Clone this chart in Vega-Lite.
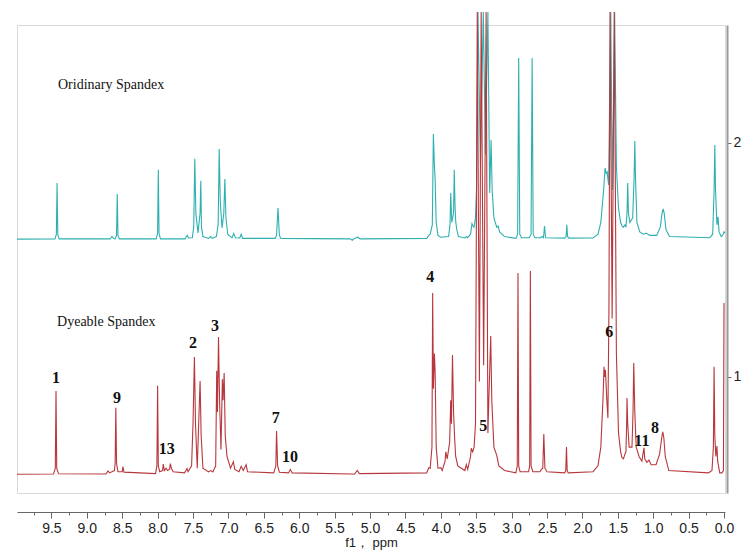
{
"$schema": "https://vega.github.io/schema/vega-lite/v6.json",
"width": 708, "height": 468,
"autosize": "none",
"padding": {"left": 17, "top": 25, "right": 23, "bottom": 63},
"background": "white",
"config": {"view": {"stroke": "#d9d9d9", "strokeWidth": 1}},
"datasets": {
"spec": [
{"s":"O","ppm":9.986,"v":1.589},{"s":"O","ppm":9.45,"v":1.59},{"s":"O","ppm":9.43,"v":1.609},{"s":"O","ppm":9.42,"v":1.829},{"s":"O","ppm":9.41,"v":1.609},{"s":"O","ppm":9.39,"v":1.59},
{"s":"O","ppm":8.67,"v":1.59},{"s":"O","ppm":8.645,"v":1.6},{"s":"O","ppm":8.62,"v":1.592},{"s":"O","ppm":8.6,"v":1.59},{"s":"O","ppm":8.58,"v":1.605},{"s":"O","ppm":8.57,"v":1.782},{"s":"O","ppm":8.56,"v":1.605},{"s":"O","ppm":8.54,"v":1.59},
{"s":"O","ppm":8.02,"v":1.59},{"s":"O","ppm":8.0,"v":1.614},{"s":"O","ppm":7.99,"v":1.885},{"s":"O","ppm":7.98,"v":1.614},{"s":"O","ppm":7.96,"v":1.59},
{"s":"O","ppm":7.61,"v":1.59},{"s":"O","ppm":7.595,"v":1.6},{"s":"O","ppm":7.58,"v":1.605},{"s":"O","ppm":7.565,"v":1.594},
{"s":"O","ppm":7.51,"v":1.595},{"s":"O","ppm":7.49,"v":1.64},{"s":"O","ppm":7.475,"v":1.932},{"s":"O","ppm":7.46,"v":1.7},{"s":"O","ppm":7.43,"v":1.615},{"s":"O","ppm":7.4,"v":1.7},{"s":"O","ppm":7.39,"v":1.838},{"s":"O","ppm":7.38,"v":1.64},{"s":"O","ppm":7.36,"v":1.6},
{"s":"O","ppm":7.28,"v":1.592},{"s":"O","ppm":7.25,"v":1.6},{"s":"O","ppm":7.23,"v":1.592},
{"s":"O","ppm":7.17,"v":1.6},{"s":"O","ppm":7.145,"v":1.65},{"s":"O","ppm":7.13,"v":1.974},{"s":"O","ppm":7.115,"v":1.75},{"s":"O","ppm":7.09,"v":1.637},{"s":"O","ppm":7.065,"v":1.7},{"s":"O","ppm":7.05,"v":1.846},{"s":"O","ppm":7.035,"v":1.68},{"s":"O","ppm":7.01,"v":1.61},
{"s":"O","ppm":6.95,"v":1.594},{"s":"O","ppm":6.925,"v":1.613},{"s":"O","ppm":6.9,"v":1.595},{"s":"O","ppm":6.84,"v":1.594},{"s":"O","ppm":6.82,"v":1.61},{"s":"O","ppm":6.8,"v":1.592},
{"s":"O","ppm":6.34,"v":1.592},{"s":"O","ppm":6.32,"v":1.605},{"s":"O","ppm":6.3,"v":1.722},{"s":"O","ppm":6.28,"v":1.605},{"s":"O","ppm":6.26,"v":1.592},
{"s":"O","ppm":5.28,"v":1.59},{"s":"O","ppm":5.25,"v":1.584},{"s":"O","ppm":5.22,"v":1.592},{"s":"O","ppm":5.17,"v":1.597},{"s":"O","ppm":5.14,"v":1.59},
{"s":"O","ppm":4.2,"v":1.592},{"s":"O","ppm":4.17,"v":1.605},{"s":"O","ppm":4.15,"v":1.61},{"s":"O","ppm":4.12,"v":1.65},{"s":"O","ppm":4.105,"v":2.038},{"s":"O","ppm":4.09,"v":1.9},{"s":"O","ppm":4.08,"v":1.84},{"s":"O","ppm":4.065,"v":1.66},{"s":"O","ppm":4.04,"v":1.605},{"s":"O","ppm":4.0,"v":1.597},
{"s":"O","ppm":3.89,"v":1.6},{"s":"O","ppm":3.87,"v":1.65},{"s":"O","ppm":3.86,"v":1.786},{"s":"O","ppm":3.845,"v":1.66},{"s":"O","ppm":3.82,"v":1.7},{"s":"O","ppm":3.81,"v":1.885},{"s":"O","ppm":3.8,"v":1.74},{"s":"O","ppm":3.79,"v":1.667},{"s":"O","ppm":3.775,"v":1.63},{"s":"O","ppm":3.75,"v":1.6},
{"s":"O","ppm":3.66,"v":1.594},{"s":"O","ppm":3.64,"v":1.6},{"s":"O","ppm":3.62,"v":1.595},{"s":"O","ppm":3.58,"v":1.61},{"s":"O","ppm":3.56,"v":1.655},{"s":"O","ppm":3.545,"v":1.645},{"s":"O","ppm":3.53,"v":1.64},{"s":"O","ppm":3.51,"v":1.68},{"s":"O","ppm":3.495,"v":1.8},
{"s":"O","ppm":3.475,"v":2.56},{"s":"O","ppm":3.44,"v":1.91},{"s":"O","ppm":3.4,"v":2.56},{"s":"O","ppm":3.37,"v":1.95},{"s":"O","ppm":3.335,"v":2.56},{"s":"O","ppm":3.31,"v":1.786},{"s":"O","ppm":3.29,"v":2.013},{"s":"O","ppm":3.275,"v":1.8},{"s":"O","ppm":3.25,"v":1.68},{"s":"O","ppm":3.21,"v":1.64},{"s":"O","ppm":3.19,"v":1.645},{"s":"O","ppm":3.17,"v":1.62},{"s":"O","ppm":3.1,"v":1.6},
{"s":"O","ppm":2.94,"v":1.592},{"s":"O","ppm":2.915,"v":1.61},{"s":"O","ppm":2.9,"v":2.363},{"s":"O","ppm":2.885,"v":1.61},{"s":"O","ppm":2.86,"v":1.595},
{"s":"O","ppm":2.75,"v":1.595},{"s":"O","ppm":2.725,"v":1.61},{"s":"O","ppm":2.71,"v":2.363},{"s":"O","ppm":2.695,"v":1.61},{"s":"O","ppm":2.67,"v":1.595},
{"s":"O","ppm":2.59,"v":1.595},{"s":"O","ppm":2.57,"v":1.6},{"s":"O","ppm":2.55,"v":1.595},{"s":"O","ppm":2.535,"v":1.645},{"s":"O","ppm":2.52,"v":1.595},
{"s":"O","ppm":2.25,"v":1.593},{"s":"O","ppm":2.23,"v":1.6},{"s":"O","ppm":2.22,"v":1.65},{"s":"O","ppm":2.21,"v":1.6},{"s":"O","ppm":2.19,"v":1.593},
{"s":"O","ppm":1.85,"v":1.594},{"s":"O","ppm":1.78,"v":1.61},{"s":"O","ppm":1.74,"v":1.66},{"s":"O","ppm":1.7,"v":1.8},{"s":"O","ppm":1.68,"v":1.893},{"s":"O","ppm":1.665,"v":1.87},{"s":"O","ppm":1.65,"v":1.876},{"s":"O","ppm":1.63,"v":1.82},
{"s":"O","ppm":1.6,"v":2.56},{"s":"O","ppm":1.575,"v":1.8},{"s":"O","ppm":1.545,"v":2.56},{"s":"O","ppm":1.52,"v":1.9},{"s":"O","ppm":1.49,"v":1.72},{"s":"O","ppm":1.46,"v":1.66},{"s":"O","ppm":1.44,"v":1.645},{"s":"O","ppm":1.42,"v":1.64},{"s":"O","ppm":1.4,"v":1.65},{"s":"O","ppm":1.385,"v":1.64},
{"s":"O","ppm":1.37,"v":1.7},{"s":"O","ppm":1.36,"v":1.829},{"s":"O","ppm":1.35,"v":1.7},{"s":"O","ppm":1.33,"v":1.66},{"s":"O","ppm":1.29,"v":1.68},{"s":"O","ppm":1.27,"v":1.85},{"s":"O","ppm":1.26,"v":2.008},{"s":"O","ppm":1.25,"v":1.85},{"s":"O","ppm":1.23,"v":1.66},{"s":"O","ppm":1.19,"v":1.62},{"s":"O","ppm":1.14,"v":1.61},{"s":"O","ppm":1.1,"v":1.615},{"s":"O","ppm":1.05,"v":1.605},
{"s":"O","ppm":0.95,"v":1.605},{"s":"O","ppm":0.9,"v":1.64},{"s":"O","ppm":0.875,"v":1.7},{"s":"O","ppm":0.86,"v":1.718},{"s":"O","ppm":0.845,"v":1.7},{"s":"O","ppm":0.82,"v":1.63},{"s":"O","ppm":0.77,"v":1.6},
{"s":"O","ppm":0.2,"v":1.595},{"s":"O","ppm":0.16,"v":1.61},{"s":"O","ppm":0.14,"v":1.8},{"s":"O","ppm":0.13,"v":1.991},{"s":"O","ppm":0.12,"v":1.8},{"s":"O","ppm":0.1,"v":1.65},{"s":"O","ppm":0.085,"v":1.684},{"s":"O","ppm":0.07,"v":1.62},{"s":"O","ppm":0.04,"v":1.6},{"s":"O","ppm":0.02,"v":1.605},{"s":"O","ppm":0.0,"v":1.62},{"s":"O","ppm":-0.014,"v":1.615},

{"s":"D","ppm":9.986,"v":0.584},{"s":"D","ppm":9.47,"v":0.585},{"s":"D","ppm":9.445,"v":0.61},{"s":"D","ppm":9.435,"v":0.94},{"s":"D","ppm":9.425,"v":0.61},{"s":"D","ppm":9.4,"v":0.586},
{"s":"D","ppm":8.73,"v":0.585},{"s":"D","ppm":8.7,"v":0.598},{"s":"D","ppm":8.68,"v":0.59},{"s":"D","ppm":8.61,"v":0.6},{"s":"D","ppm":8.6,"v":0.63},{"s":"D","ppm":8.59,"v":0.868},{"s":"D","ppm":8.58,"v":0.63},{"s":"D","ppm":8.56,"v":0.595},{"s":"D","ppm":8.5,"v":0.595},{"s":"D","ppm":8.49,"v":0.617},{"s":"D","ppm":8.475,"v":0.593},
{"s":"D","ppm":8.03,"v":0.587},{"s":"D","ppm":8.01,"v":0.62},{"s":"D","ppm":8.0,"v":0.962},{"s":"D","ppm":7.99,"v":0.62},{"s":"D","ppm":7.97,"v":0.595},{"s":"D","ppm":7.93,"v":0.6},{"s":"D","ppm":7.92,"v":0.628},{"s":"D","ppm":7.905,"v":0.6},{"s":"D","ppm":7.88,"v":0.61},{"s":"D","ppm":7.86,"v":0.6},{"s":"D","ppm":7.83,"v":0.606},{"s":"D","ppm":7.82,"v":0.63},{"s":"D","ppm":7.805,"v":0.61},{"s":"D","ppm":7.78,"v":0.595},
{"s":"D","ppm":7.62,"v":0.59},{"s":"D","ppm":7.6,"v":0.6},{"s":"D","ppm":7.585,"v":0.608},{"s":"D","ppm":7.57,"v":0.595},
{"s":"D","ppm":7.52,"v":0.62},{"s":"D","ppm":7.5,"v":0.8},{"s":"D","ppm":7.48,"v":1.085},{"s":"D","ppm":7.465,"v":0.8},{"s":"D","ppm":7.44,"v":0.61},{"s":"D","ppm":7.42,"v":0.8},{"s":"D","ppm":7.4,"v":0.983},{"s":"D","ppm":7.385,"v":0.75},{"s":"D","ppm":7.36,"v":0.61},
{"s":"D","ppm":7.28,"v":0.594},{"s":"D","ppm":7.25,"v":0.6},{"s":"D","ppm":7.22,"v":0.594},
{"s":"D","ppm":7.18,"v":0.62},{"s":"D","ppm":7.165,"v":1.026},{"s":"D","ppm":7.155,"v":0.85},{"s":"D","ppm":7.14,"v":1.171},{"s":"D","ppm":7.125,"v":0.9},{"s":"D","ppm":7.105,"v":0.69},{"s":"D","ppm":7.085,"v":0.99},{"s":"D","ppm":7.075,"v":0.9},{"s":"D","ppm":7.06,"v":1.017},{"s":"D","ppm":7.045,"v":0.75},{"s":"D","ppm":7.02,"v":0.66},{"s":"D","ppm":7.0,"v":0.64},{"s":"D","ppm":6.97,"v":0.61},
{"s":"D","ppm":6.93,"v":0.637},{"s":"D","ppm":6.91,"v":0.605},{"s":"D","ppm":6.85,"v":0.595},{"s":"D","ppm":6.82,"v":0.618},{"s":"D","ppm":6.79,"v":0.6},{"s":"D","ppm":6.75,"v":0.625},{"s":"D","ppm":6.73,"v":0.595},
{"s":"D","ppm":6.36,"v":0.59},{"s":"D","ppm":6.33,"v":0.62},{"s":"D","ppm":6.32,"v":0.769},{"s":"D","ppm":6.305,"v":0.62},{"s":"D","ppm":6.28,"v":0.593},
{"s":"D","ppm":6.15,"v":0.59},{"s":"D","ppm":6.125,"v":0.605},{"s":"D","ppm":6.1,"v":0.59},
{"s":"D","ppm":5.25,"v":0.585},{"s":"D","ppm":5.22,"v":0.584},{"s":"D","ppm":5.18,"v":0.6},{"s":"D","ppm":5.15,"v":0.587},
{"s":"D","ppm":4.2,"v":0.59},{"s":"D","ppm":4.17,"v":0.612},{"s":"D","ppm":4.15,"v":0.61},{"s":"D","ppm":4.125,"v":0.7},{"s":"D","ppm":4.115,"v":1.359},{"s":"D","ppm":4.105,"v":0.95},{"s":"D","ppm":4.09,"v":1.1},{"s":"D","ppm":4.08,"v":1.017},{"s":"D","ppm":4.065,"v":0.7},{"s":"D","ppm":4.04,"v":0.61},{"s":"D","ppm":4.0,"v":0.612},{"s":"D","ppm":3.98,"v":0.6},
{"s":"D","ppm":3.94,"v":0.64},{"s":"D","ppm":3.93,"v":0.68},{"s":"D","ppm":3.91,"v":0.65},{"s":"D","ppm":3.875,"v":0.72},{"s":"D","ppm":3.86,"v":0.9},{"s":"D","ppm":3.85,"v":0.8},{"s":"D","ppm":3.835,"v":1.094},{"s":"D","ppm":3.82,"v":0.85},{"s":"D","ppm":3.805,"v":0.74},{"s":"D","ppm":3.79,"v":0.66},{"s":"D","ppm":3.76,"v":0.62},
{"s":"D","ppm":3.66,"v":0.6},{"s":"D","ppm":3.64,"v":0.625},{"s":"D","ppm":3.62,"v":0.605},{"s":"D","ppm":3.58,"v":0.66},{"s":"D","ppm":3.57,"v":0.695},{"s":"D","ppm":3.55,"v":0.68},{"s":"D","ppm":3.53,"v":0.7},{"s":"D","ppm":3.51,"v":0.8},
{"s":"D","ppm":3.485,"v":2.56},{"s":"D","ppm":3.455,"v":0.98},{"s":"D","ppm":3.43,"v":2.56},{"s":"D","ppm":3.395,"v":1.05},{"s":"D","ppm":3.36,"v":2.56},{"s":"D","ppm":3.335,"v":0.76},{"s":"D","ppm":3.295,"v":1.175},{"s":"D","ppm":3.28,"v":0.9},{"s":"D","ppm":3.25,"v":0.7},{"s":"D","ppm":3.21,"v":0.665},{"s":"D","ppm":3.18,"v":0.62},{"s":"D","ppm":3.1,"v":0.6},
{"s":"D","ppm":2.94,"v":0.59},{"s":"D","ppm":2.92,"v":0.62},{"s":"D","ppm":2.91,"v":1.444},{"s":"D","ppm":2.9,"v":0.62},{"s":"D","ppm":2.88,"v":0.595},
{"s":"D","ppm":2.76,"v":0.595},{"s":"D","ppm":2.745,"v":0.62},{"s":"D","ppm":2.735,"v":1.453},{"s":"D","ppm":2.725,"v":0.62},{"s":"D","ppm":2.7,"v":0.595},
{"s":"D","ppm":2.6,"v":0.595},{"s":"D","ppm":2.58,"v":0.605},{"s":"D","ppm":2.56,"v":0.61},{"s":"D","ppm":2.545,"v":0.756},{"s":"D","ppm":2.53,"v":0.61},{"s":"D","ppm":2.5,"v":0.595},
{"s":"D","ppm":2.25,"v":0.59},{"s":"D","ppm":2.235,"v":0.6},{"s":"D","ppm":2.225,"v":0.7},{"s":"D","ppm":2.215,"v":0.6},{"s":"D","ppm":2.2,"v":0.59},
{"s":"D","ppm":1.85,"v":0.595},{"s":"D","ppm":1.78,"v":0.62},{"s":"D","ppm":1.74,"v":0.7},{"s":"D","ppm":1.71,"v":0.9},{"s":"D","ppm":1.695,"v":1.043},{"s":"D","ppm":1.685,"v":1.0},{"s":"D","ppm":1.675,"v":1.03},{"s":"D","ppm":1.655,"v":0.9},{"s":"D","ppm":1.64,"v":0.825},{"s":"D","ppm":1.625,"v":1.3},
{"s":"D","ppm":1.61,"v":2.56},{"s":"D","ppm":1.58,"v":1.25},{"s":"D","ppm":1.55,"v":2.56},{"s":"D","ppm":1.52,"v":1.1},{"s":"D","ppm":1.49,"v":0.76},{"s":"D","ppm":1.46,"v":0.68},{"s":"D","ppm":1.44,"v":0.655},{"s":"D","ppm":1.42,"v":0.65},{"s":"D","ppm":1.4,"v":0.67},{"s":"D","ppm":1.385,"v":0.68},
{"s":"D","ppm":1.375,"v":0.8},{"s":"D","ppm":1.37,"v":0.91},{"s":"D","ppm":1.36,"v":0.8},{"s":"D","ppm":1.34,"v":0.7},{"s":"D","ppm":1.3,"v":0.7},{"s":"D","ppm":1.285,"v":0.85},{"s":"D","ppm":1.275,"v":1.06},{"s":"D","ppm":1.26,"v":0.85},{"s":"D","ppm":1.24,"v":0.7},{"s":"D","ppm":1.2,"v":0.66},{"s":"D","ppm":1.16,"v":0.64},{"s":"D","ppm":1.14,"v":0.68},{"s":"D","ppm":1.13,"v":0.697},{"s":"D","ppm":1.12,"v":0.65},{"s":"D","ppm":1.09,"v":0.635},{"s":"D","ppm":1.06,"v":0.645},{"s":"D","ppm":1.03,"v":0.625},
{"s":"D","ppm":0.96,"v":0.625},{"s":"D","ppm":0.91,"v":0.67},{"s":"D","ppm":0.88,"v":0.74},{"s":"D","ppm":0.865,"v":0.765},{"s":"D","ppm":0.85,"v":0.74},{"s":"D","ppm":0.83,"v":0.66},{"s":"D","ppm":0.78,"v":0.6},
{"s":"D","ppm":0.22,"v":0.59},{"s":"D","ppm":0.17,"v":0.6},{"s":"D","ppm":0.15,"v":0.7},{"s":"D","ppm":0.14,"v":1.043},{"s":"D","ppm":0.13,"v":0.75},{"s":"D","ppm":0.115,"v":0.66},{"s":"D","ppm":0.1,"v":0.705},{"s":"D","ppm":0.09,"v":0.64},{"s":"D","ppm":0.06,"v":0.59},{"s":"D","ppm":0.03,"v":0.59},{"s":"D","ppm":0.008,"v":0.6},{"s":"D","ppm":0.0,"v":1.316}
],
"labels": [
{"t":"1","ppm":9.435,"v":0.996},{"t":"9","ppm":8.573,"v":0.91},{"t":"13","ppm":7.87,"v":0.692},{"t":"2","ppm":7.5,"v":1.145},{"t":"3","ppm":7.19,"v":1.218},{"t":"7","ppm":6.33,"v":0.825},{"t":"10","ppm":6.13,"v":0.658},{"t":"4","ppm":4.15,"v":1.427},{"t":"5","ppm":3.4,"v":0.79},{"t":"6","ppm":1.62,"v":1.192},{"t":"11","ppm":1.16,"v":0.727},{"t":"8","ppm":0.975,"v":0.782}
],
"titles": [
{"t":"Oridinary Spandex","ppm":9.407,"v":2.248},{"t":"Dyeable Spandex","ppm":9.42,"v":1.235}
]
},
"encoding": {
"x": {"field":"ppm","type":"quantitative","scale":{"domain":[9.986,-0.014],"nice":false,"zero":false},
 "axis": {"orient":"bottom","offset":19,"values":[9.75,9.5,9.25,9.0,8.75,8.5,8.25,8.0,7.75,7.5,7.25,7.0,6.75,6.5,6.25,6.0,5.75,5.5,5.25,5.0,4.75,4.5,4.25,4.0,3.75,3.5,3.25,3.0,2.75,2.5,2.25,2.0,1.75,1.5,1.25,1.0,0.75,0.5,0.25,0.0],
  "labelExpr":"datum.value % 0.5 == 0 ? format(datum.value, '.1f') : ''",
  "tickSize":{"condition":{"test":"datum.value % 0.5 == 0","value":6},"value":3},
  "domainColor":"#666","tickColor":"#666","labelFont":"Liberation Sans","labelFontSize":14,"labelColor":"#222","labelPadding":3,"labelOverlap":false,"labelFlush":false,
  "title":"f1， ppm","titleFont":"Liberation Sans","titleFontSize":13,"titleFontWeight":"normal","titleColor":"#222","titlePadding":1,"grid":false}},
"y": {"field":"v","type":"quantitative","scale":{"domain":[0.504,2.504],"nice":false,"zero":false},
 "axis": {"orient":"right","offset":2,"values":[1,2],"format":"d","tickSize":4,"domainColor":"#9a9a9a","domainWidth":2,"tickColor":"#666","labelFont":"Liberation Sans","labelFontSize":14,"labelColor":"#222","labelPadding":2,"title":null,"grid":false}}
},
"layer": [
{"data":{"name":"spec"},"mark":{"type":"line","strokeWidth":1.1},
 "encoding":{"color":{"field":"s","type":"nominal","scale":{"domain":["O","D"],"range":["#2fb0b0","#b8373c"]},"legend":null}}},
{"data":{"name":"labels"},"mark":{"type":"text","font":"Liberation Serif","fontSize":16,"fontWeight":"bold","color":"#111","baseline":"middle","align":"center"},
 "encoding":{"text":{"field":"t"}}},
{"data":{"name":"titles"},"mark":{"type":"text","font":"Liberation Serif","fontSize":14,"color":"#111","baseline":"middle","align":"left"},
 "encoding":{"text":{"field":"t"}}}
]
}
